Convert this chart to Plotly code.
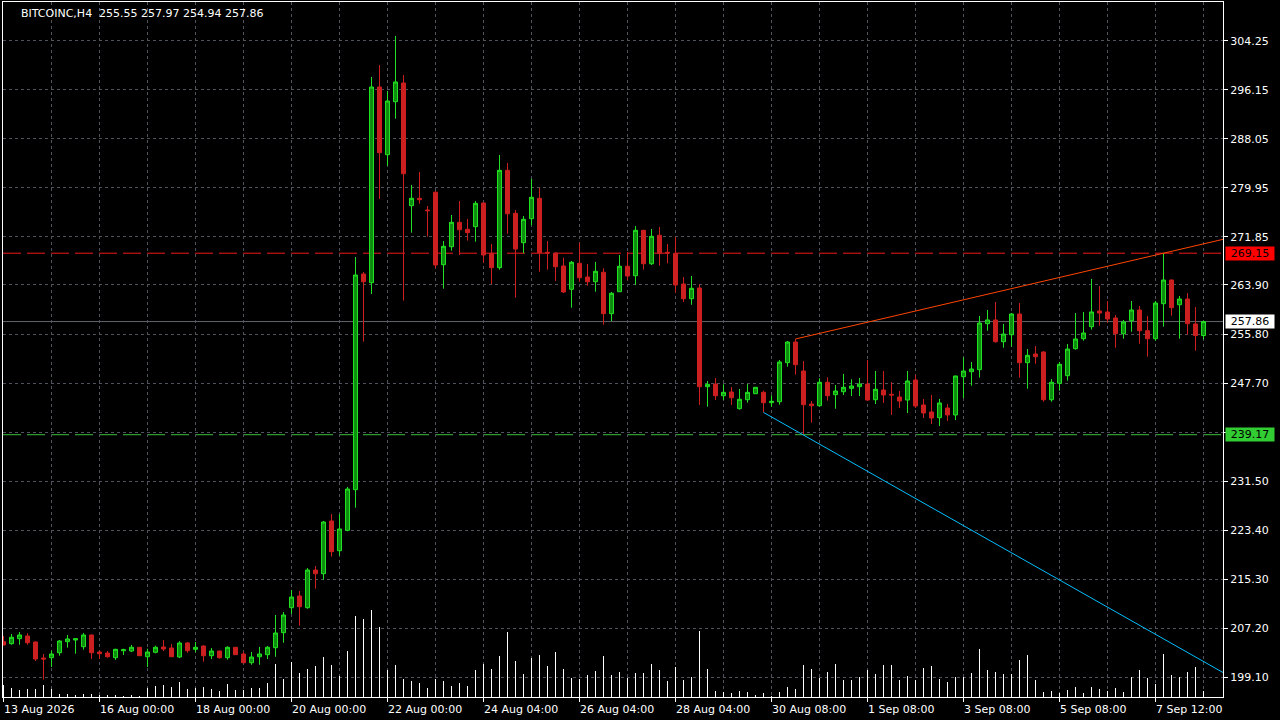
import plotly.graph_objects as go

symbol = "BITCOINC,H4"

opens = [
    204.98, 204.65, 205.48, 205.92, 204.93, 202.29, 202.34, 203.16, 204.98, 205.26,
    204.15, 206.09, 203.28, 203.11, 202.34, 203.49, 203.44, 204.06, 202.50, 203.23,
    204.11, 203.94, 202.45, 204.77, 203.72, 204.27, 202.67, 203.44, 202.34, 204.06,
    202.95, 201.51, 202.50, 202.84, 203.99, 206.47, 210.60, 212.53, 210.60, 216.82,
    216.21, 224.92, 220.01, 223.38, 230.09, 265.71, 264.28, 296.60, 285.42, 294.17,
    297.26, 277.00, 278.22, 276.29, 279.21, 267.25, 270.22, 274.25, 273.10, 273.53,
    277.44, 269.13, 266.76, 282.84, 275.74, 270.88, 274.85, 278.22, 269.30, 269.18,
    267.04, 263.19, 267.48, 265.22, 264.44, 266.00, 259.16, 262.79, 266.99, 265.43,
    272.93, 267.41, 272.11, 269.30, 269.13, 264.06, 261.63, 263.40, 247.10, 247.54,
    245.61, 246.22, 243.47, 244.95, 245.94, 246.17, 244.46, 244.62, 251.07, 254.48,
    249.69, 244.24, 243.96, 247.83, 245.78, 246.27, 246.83, 247.10, 247.54, 244.95,
    246.55, 245.84, 245.40, 244.90, 248.21, 244.08, 242.92, 241.98, 243.58, 242.43,
    248.75, 249.58, 249.91, 257.51, 258.12, 254.53, 255.69, 259.11, 251.07, 252.50,
    252.83, 244.95, 247.66, 248.92, 253.38, 255.03, 257.01, 259.60, 259.44, 258.45,
    255.85, 258.00, 259.77, 256.35, 255.03, 260.81, 264.72, 260.64, 261.58, 257.46,
    255.55,
]
highs = [
    205.92, 206.25, 206.58, 206.37, 205.05, 202.95, 203.49, 205.26, 206.09, 205.55,
    206.42, 206.15, 203.49, 203.44, 203.82, 203.82, 204.44, 204.10, 203.82, 204.32,
    205.26, 204.60, 205.05, 204.93, 204.93, 204.39, 203.94, 203.50, 204.22, 204.10,
    203.33, 203.28, 204.11, 204.27, 209.39, 209.89, 213.52, 213.35, 217.15, 217.48,
    224.92, 226.07, 226.07, 230.53, 268.52, 266.05, 298.26, 300.24, 295.94, 305.03,
    298.58, 280.42, 282.56, 276.95, 279.42, 271.17, 275.46, 277.77, 274.80, 277.77,
    277.50, 270.67, 285.37, 284.05, 276.29, 275.30, 281.41, 279.97, 271.17, 269.25,
    268.41, 267.86, 270.88, 267.37, 267.70, 266.66, 262.74, 268.85, 269.35, 273.64,
    273.00, 273.15, 273.48, 270.67, 271.83, 265.22, 265.38, 264.01, 248.04, 248.54,
    247.49, 247.05, 246.72, 247.54, 247.05, 246.44, 245.68, 251.51, 254.65, 254.98,
    251.34, 244.74, 248.49, 248.65, 247.38, 249.20, 248.32, 248.54, 251.51, 249.69,
    249.69, 247.87, 246.39, 249.69, 249.03, 245.07, 245.73, 245.07, 244.24, 248.90,
    251.95, 251.18, 258.77, 259.77, 261.09, 257.46, 259.27, 260.92, 253.32, 253.82,
    252.99, 248.37, 251.18, 254.15, 259.27, 259.44, 264.89, 263.73, 261.25, 258.94,
    258.12, 261.25, 260.43, 258.77, 261.25, 269.15, 264.80, 262.08, 262.57, 260.26,
    257.97,
]
lows = [
    204.39, 204.48, 204.48, 204.48, 201.79, 198.74, 200.80, 202.67, 203.99, 203.00,
    203.66, 202.12, 202.12, 202.34, 201.96, 202.79, 203.28, 202.62, 200.80, 203.06,
    203.44, 202.45, 202.29, 203.16, 203.23, 201.68, 202.12, 202.17, 202.01, 202.80,
    201.41, 201.18, 201.18, 202.12, 202.50, 204.81, 209.56, 207.62, 210.43, 213.73,
    215.22, 219.02, 219.19, 223.22, 227.11, 254.53, 262.41, 278.10, 283.60, 291.37,
    261.31, 272.54, 277.33, 271.88, 266.66, 263.29, 269.56, 268.85, 271.22, 271.05,
    267.58, 264.06, 266.43, 272.37, 261.80, 269.13, 273.76, 266.10, 266.43, 264.56,
    262.57, 260.15, 264.44, 263.78, 262.79, 257.34, 257.95, 262.74, 264.67, 263.90,
    266.43, 267.20, 267.08, 267.48, 262.62, 261.09, 260.64, 244.08, 243.80, 244.90,
    244.90, 244.08, 243.31, 244.46, 245.90, 242.81, 243.80, 244.13, 250.40, 249.08,
    239.17, 241.15, 243.80, 244.79, 243.47, 245.73, 245.56, 245.56, 244.74, 244.24,
    244.41, 242.43, 243.58, 242.76, 243.58, 241.93, 240.94, 240.61, 241.44, 241.60,
    245.23, 247.26, 248.59, 256.35, 254.37, 253.54, 253.71, 248.59, 246.77, 250.90,
    244.62, 244.62, 246.44, 248.09, 253.21, 254.70, 256.52, 257.17, 257.67, 253.54,
    255.03, 256.18, 254.20, 252.05, 254.70, 257.01, 258.83, 255.03, 255.69, 253.04,
    254.94,
]
closes = [
    204.44, 205.71, 206.09, 204.81, 202.12, 202.12, 202.95, 205.10, 205.43, 205.48,
    206.09, 203.16, 203.00, 202.50, 203.72, 203.66, 204.06, 202.67, 203.28, 204.06,
    203.77, 202.50, 204.77, 203.49, 204.06, 202.67, 203.44, 202.34, 204.06, 202.84,
    201.51, 202.45, 202.95, 204.06, 206.42, 209.39, 212.36, 210.76, 216.82, 216.21,
    224.75, 219.85, 223.60, 230.20, 265.55, 264.44, 296.60, 285.75, 294.29, 297.43,
    282.28, 278.22, 277.99, 276.17, 267.20, 270.29, 274.25, 273.03, 272.54, 277.39,
    268.85, 266.76, 282.84, 275.67, 269.84, 274.75, 278.38, 269.23, 269.18, 266.92,
    262.74, 267.65, 265.10, 264.44, 266.16, 259.16, 262.53, 266.99, 265.38, 272.93,
    267.41, 271.94, 269.13, 269.18, 263.90, 261.63, 263.35, 247.10, 247.49, 245.61,
    246.17, 245.28, 245.02, 246.17, 247.00, 244.46, 244.69, 251.18, 254.48, 250.74,
    244.13, 243.96, 247.83, 245.61, 246.39, 247.00, 247.22, 247.54, 244.90, 246.67,
    245.73, 245.73, 244.74, 248.04, 243.91, 242.76, 241.93, 244.41, 242.43, 248.87,
    249.69, 250.02, 257.62, 258.12, 254.53, 255.80, 259.11, 251.07, 252.28, 252.05,
    244.95, 247.83, 250.80, 253.32, 254.98, 255.97, 259.44, 259.27, 258.28, 255.85,
    257.79, 259.77, 256.35, 255.03, 260.92, 264.72, 260.15, 261.58, 257.51, 255.55,
    257.86,
]
volumes = [
    369, 261, 210, 231, 249, 351, 231, 81, 81, 51,
    81, 81, 51, 51, 51, 21, 51, 21, 261, 321,
    351, 291, 441, 231, 261, 291, 231, 171, 381, 201,
    201, 261, 279, 411, 981, 531, 1041, 711, 831, 921,
    1191, 951, 621, 1371, 2421, 2331, 2601, 2091, 801, 951,
    531, 471, 411, 261, 531, 471, 321, 411, 321, 801,
    981, 831, 1221, 1941, 1071, 681, 1161, 1251, 921, 1341,
    831, 561, 531, 651, 771, 1221, 651, 741, 561, 711,
    711, 981, 801, 471, 891, 501, 591, 1971, 831, 171,
    141, 111, 171, 141, 51, 111, 21, 141, 291, 231,
    951, 831, 561, 741, 981, 501, 501, 591, 801, 681,
    951, 951, 501, 621, 501, 861, 921, 531, 441, 591,
    591, 711, 1431, 801, 741, 681, 681, 1101, 1251, 501,
    141, 171, 111, 201, 291, 111, 291, 231, 171, 261,
    141, 591, 801, 561, 381, 1281, 651, 591, 741, 891,
    171,
]

x_tick_labels = ["13 Aug 2026", "16 Aug 00:00", "18 Aug 00:00", "20 Aug 00:00",
                 "22 Aug 00:00", "24 Aug 04:00", "26 Aug 04:00", "28 Aug 04:00",
                 "30 Aug 08:00", "1 Sep 08:00", "3 Sep 08:00", "5 Sep 08:00",
                 "7 Sep 12:00"]
price_tick_labels = ["199.10", "207.20", "215.30", "223.40", "231.50", "239.60", "247.70",
                     "255.80", "263.90", "271.85", "279.95", "288.05", "296.15", "304.25"]
support_level = 239.17
resistance_level = 269.15
# trendline anchor points: (bar index, price)
up_trend = [(99, 254.98), (145, 269.15)]
down_trend = [(95, 242.85), (100, 239.11)]

n = len(opens)
idx = list(range(n))
label_step = 12
x_end = 152.4375
x_start = -0.0625

FONT = "DejaVu Sans"
GRID = "#4f535d"
BULL_LINE = "#22e022"
BULL_FILL = "#0e8e0e"
BEAR = "#cc1f1f"

fig = go.Figure()

fig.add_trace(go.Bar(
    x=idx, y=volumes, width=0.125, yaxis="y2",
    marker=dict(color="white", line=dict(width=0)),
    showlegend=False, hoverinfo="skip",
))

fig.add_trace(go.Candlestick(
    x=idx, open=opens, high=highs, low=lows, close=closes,
    increasing=dict(line=dict(color=BULL_LINE, width=1), fillcolor=BULL_FILL),
    decreasing=dict(line=dict(color=BEAR, width=1), fillcolor=BEAR),
    whiskerwidth=0, showlegend=False,
))

# trendlines (rays extended to the right)
def ray(pts):
    (i0, p0), (i1, p1) = pts
    slope = (p1 - p0) / (i1 - i0)
    xe = x_end + 5
    return [i0, xe], [p0, p0 + slope * (xe - i0)]

ux, uy = ray(up_trend)
dx, dy = ray(down_trend)
fig.add_trace(go.Scatter(x=ux, y=uy, mode="lines", line=dict(color="#ff4500", width=1),
                         showlegend=False, hoverinfo="skip"))
fig.add_trace(go.Scatter(x=dx, y=dy, mode="lines", line=dict(color="#00bfff", width=1),
                         showlegend=False, hoverinfo="skip"))

last_close = closes[-1]
shapes = [
    dict(type="line", xref="paper", x0=0, x1=1, yref="y", y0=last_close, y1=last_close,
         line=dict(color="#62646c", width=1), layer="between"),
    dict(type="line", xref="paper", x0=0, x1=1, yref="y", y0=resistance_level, y1=resistance_level,
         line=dict(color="#ee1a1a", width=1, dash="18px,6px"), layer="between"),
    dict(type="line", xref="paper", x0=0, x1=1, yref="y", y0=support_level, y1=support_level,
         line=dict(color="#3cbf3c", width=1, dash="18px,6px"), layer="between"),
]

annotations = []
for k, lab in enumerate(x_tick_labels):
    annotations.append(dict(
        x=k * label_step, xref="x", y=0, yref="paper", text=lab, showarrow=False,
        xanchor="left", yanchor="top", yshift=-4, xshift=-2,
        font=dict(family=FONT, size=11, color="white"),
    ))

title_text = f"{symbol}\u00a0 {opens[-1]:.2f} {highs[-1]:.2f} {lows[-1]:.2f} {closes[-1]:.2f}"
annotations.append(dict(
    x=0, xref="paper", y=1, yref="paper", text=title_text, showarrow=False,
    xanchor="left", yanchor="top", xshift=16, yshift=-3,
    font=dict(family=FONT, size=11, color="white"),
))

for level, bg in [(resistance_level, "#ff0000"), (last_close, "#ffffff"), (support_level, "#32cd32")]:
    annotations.append(dict(
        x=1, xref="paper", y=level, yref="y", text=f"{level:.2f}", showarrow=False,
        xanchor="left", yanchor="middle", xshift=2, width=48, height=13, borderpad=0,
        bgcolor=bg, font=dict(family=FONT, size=11, color="black"),
    ))

fig.update_layout(
    width=1280, height=720,
    margin=dict(l=3, r=57, t=2, b=23),
    paper_bgcolor="black", plot_bgcolor="black",
    font=dict(family=FONT, size=11, color="white"),
    boxgap=0.5, boxgroupgap=0,
    bargap=0,
    shapes=shapes, annotations=annotations,
    showlegend=False,
    xaxis=dict(
        range=[x_start, x_end], rangeslider=dict(visible=False),
        tick0=0, dtick=label_step, ticks="outside", ticklen=4, tickcolor="white",
        showticklabels=False,
        showgrid=True, gridcolor=GRID, griddash="3px,3px", gridwidth=1,
        minor=dict(tick0=0, dtick=label_step // 2, showgrid=True, gridcolor=GRID,
                   griddash="3px,3px", ticks=""),
        showline=True, linecolor="white", linewidth=1, mirror=True,
        zeroline=False,
    ),
    yaxis=dict(
        range=[195.846, 310.642], side="right",
        tickvals=[float(t) for t in price_tick_labels], ticktext=price_tick_labels,
        ticks="outside", ticklen=4, tickcolor="white",
        tickfont=dict(family=FONT, size=11, color="white"),
        showgrid=True, gridcolor=GRID, griddash="3px,3px", gridwidth=1,
        showline=True, linecolor="white", linewidth=1, mirror=True,
        zeroline=False,
    ),
    yaxis2=dict(range=[0, 695 * 30], overlaying="y", visible=False, showgrid=False),
)

fig.write_html(
    "out.html",
    config={"displayModeBar": False},
    post_script="document.body.style.margin='0';document.body.style.background='black';",
)
